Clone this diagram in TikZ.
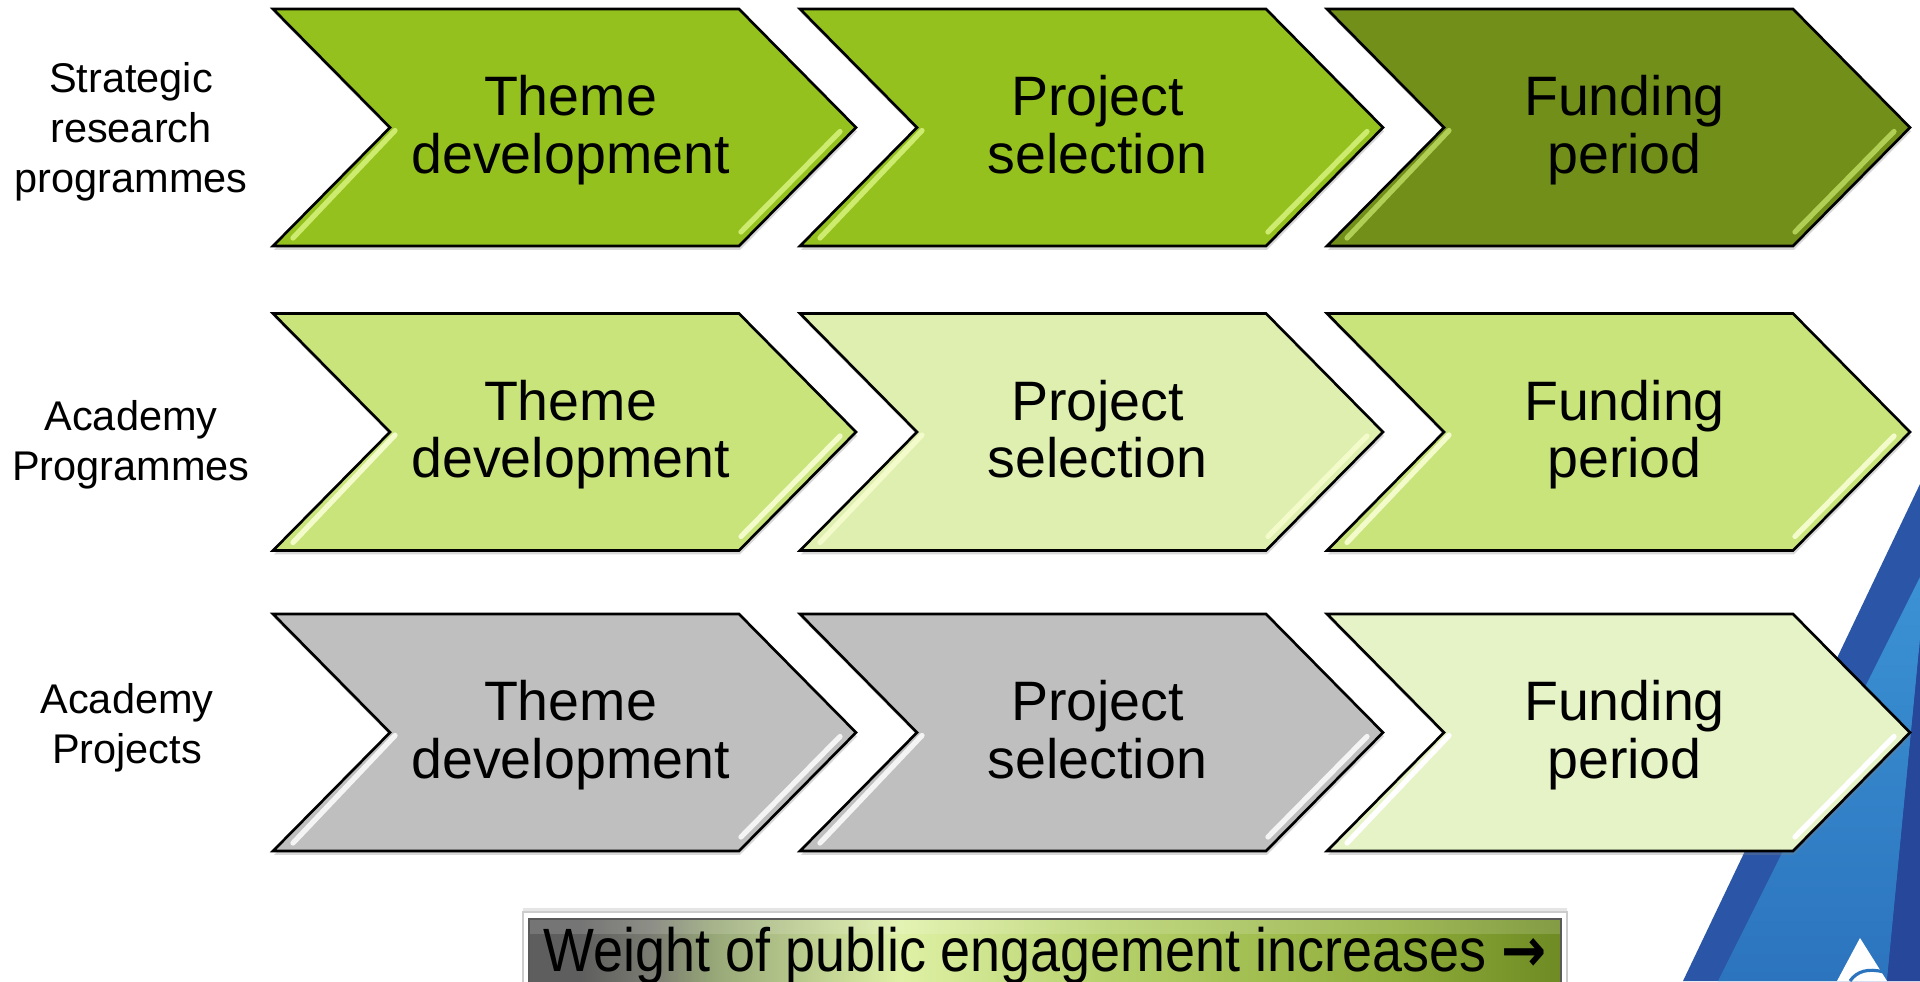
\documentclass[tikz,border=0pt]{standalone}
\usepackage{fontspec}
\setmainfont{Liberation Sans}
\newfontfamily\arrowfont{DejaVu Sans}
\usepackage{graphicx}
\usetikzlibrary{positioning,shadows}

\definecolor{greenA}{HTML}{95C11F}
\definecolor{oliveA}{HTML}{718F19}
\definecolor{limeB}{HTML}{C8E47B}
\definecolor{paleB}{HTML}{DEEFAF}
\definecolor{grayC}{HTML}{BFBFBF}
\definecolor{paleC}{HTML}{E6F3C6}
\definecolor{glintA}{HTML}{CDEB6E}
\definecolor{glintB}{HTML}{F3FBCB}
\definecolor{glintC}{HTML}{F4F4F4}
\definecolor{barA}{HTML}{5E5E5E}
\definecolor{barB}{HTML}{7B7C72}
\definecolor{barC}{HTML}{98A878}
\definecolor{barD}{HTML}{DFF1A6}
\definecolor{barE}{HTML}{B6D16B}
\definecolor{barF}{HTML}{8FAD3A}
\definecolor{barG}{HTML}{6E8B24}
\definecolor{logodark}{HTML}{2B56A7}
\definecolor{logolight}{HTML}{3B92D4}
\definecolor{logomid}{HTML}{2C74BE}
\definecolor{logodeep}{HTML}{26479A}

\pgfdeclarehorizontalshading{weightbar}{100bp}{color(0bp)=(barA); color(25bp)=(barA); color(27.5bp)=(barA); color(31bp)=(barB); color(34bp)=(barC); color(43bp)=(barD); color(53bp)=(barE); color(67bp)=(barF); color(75bp)=(barG); color(100bp)=(barG)}

\tikzset{
  chev/.style={draw=black, line width=0.75pt, drop shadow={opacity=0.3, shadow xshift=0.3pt, shadow yshift=-1.1pt}},
  glint/.style={draw=#1, line width=1.5pt, line cap=round},
  chevtext/.style={font=\fontsize{15.8}{16.4}\selectfont, align=center, execute at end node=\vphantom{p}},
  rowlabel/.style={font=\fontsize{11.8}{14.2}\selectfont, align=center, execute at end node=\vphantom{p}},
  bartext/.style={font=\fontsize{17.4}{19}\selectfont, inner sep=0pt}
}

\begin{document}
\begin{tikzpicture}[x=0.01cm, y=0.01cm]
        \clip (0,0) rectangle (1920,-981);
        \fill[white] (0,0) rectangle (1920,-981);
        \fill[logodark] (1920,-484) -- (1683,-981) -- (1920,-981) -- cycle;
        \shade[top color=logolight, bottom color=logomid] (1920,-577) -- (1718,-981) -- (1887,-981) -- (1920,-640) -- cycle;
        \fill[logodeep] (1920,-640) -- (1887,-981) -- (1920,-981) -- cycle;
        \fill[white] (1860,-938) -- (1837,-981) -- (1887,-981) -- cycle;
        \draw[logomid, line width=0.9pt] (1850,-981) .. controls (1857,-971) and (1868,-968) .. (1884,-972);
        \filldraw[chev, fill=greenA] (273,-9) -- ++(466,0) -- ++(117,-118.5) -- ++(-117,-118.5) -- ++(-466,0) -- ++(117,118.5) -- cycle;
        \filldraw[chev, fill=greenA] (800,-9) -- ++(466,0) -- ++(117,-118.5) -- ++(-117,-118.5) -- ++(-466,0) -- ++(117,118.5) -- cycle;
        \filldraw[chev, fill=oliveA] (1327,-9) -- ++(466,0) -- ++(117,-118.5) -- ++(-117,-118.5) -- ++(-466,0) -- ++(117,118.5) -- cycle;
        \filldraw[chev, fill=limeB] (273,-313.5) -- ++(466,0) -- ++(117,-118.5) -- ++(-117,-118.5) -- ++(-466,0) -- ++(117,118.5) -- cycle;
        \filldraw[chev, fill=paleB] (800,-313.5) -- ++(466,0) -- ++(117,-118.5) -- ++(-117,-118.5) -- ++(-466,0) -- ++(117,118.5) -- cycle;
        \filldraw[chev, fill=limeB] (1327,-313.5) -- ++(466,0) -- ++(117,-118.5) -- ++(-117,-118.5) -- ++(-466,0) -- ++(117,118.5) -- cycle;
        \filldraw[chev, fill=grayC] (273,-614) -- ++(466,0) -- ++(117,-118.5) -- ++(-117,-118.5) -- ++(-466,0) -- ++(117,118.5) -- cycle;
        \filldraw[chev, fill=grayC] (800,-614) -- ++(466,0) -- ++(117,-118.5) -- ++(-117,-118.5) -- ++(-466,0) -- ++(117,118.5) -- cycle;
        \filldraw[chev, fill=paleC] (1327,-614) -- ++(466,0) -- ++(117,-118.5) -- ++(-117,-118.5) -- ++(-466,0) -- ++(117,118.5) -- cycle;
        \draw[glint=glintA] (395,-130.5) -- (293,-238);
        \draw[glint=glintA] (840,-131.5) -- (741,-232);
        \draw[glint=glintA] (922,-130.5) -- (820,-238);
        \draw[glint=glintA] (1367,-131.5) -- (1268,-232);
        \draw[glint=glintA!70!oliveA] (1449,-130.5) -- (1347,-238);
        \draw[glint=glintA!70!oliveA] (1894,-131.5) -- (1795,-232);
        \draw[glint=glintB] (395,-435) -- (293,-542.5);
        \draw[glint=glintB] (840,-436) -- (741,-536.5);
        \draw[glint=glintB] (922,-435) -- (820,-542.5);
        \draw[glint=glintB] (1367,-436) -- (1268,-536.5);
        \draw[glint=glintB] (1449,-435) -- (1347,-542.5);
        \draw[glint=glintB] (1894,-436) -- (1795,-536.5);
        \draw[glint=glintC] (395,-735.5) -- (293,-843);
        \draw[glint=glintC] (840,-736.5) -- (741,-837);
        \draw[glint=glintC] (922,-735.5) -- (820,-843);
        \draw[glint=glintC] (1367,-736.5) -- (1268,-837);
        \draw[glint=white] (1449,-735.5) -- (1347,-843);
        \draw[glint=white] (1894,-736.5) -- (1795,-837);
        \node[rowlabel] (strategic) at (131,-132) {Strategic\\research\\programmes};
        \node[rowlabel] (acprog) at (131,-445) {Academy\\Programmes};
        \node[rowlabel] (acproj) at (127,-728) {Academy\\Projects};
        \node[chevtext] (theme1) at (570.5,-130) {Theme\\development};
        \node[chevtext] (select1) at (1097.5,-130) {Project\\selection};
        \node[chevtext] (fund1) at (1624.5,-130) {Funding\\period};
        \node[chevtext] (theme2) at (570.5,-434.5) {Theme\\development};
        \node[chevtext] (select2) at (1097.5,-434.5) {Project\\selection};
        \node[chevtext] (fund2) at (1624.5,-434.5) {Funding\\period};
        \node[chevtext] (theme3) at (570.5,-735) {Theme\\development};
        \node[chevtext] (select3) at (1097.5,-735) {Project\\selection};
        \node[chevtext] (fund3) at (1624.5,-735) {Funding\\period};
        \filldraw[draw=gray!40, fill=white, drop shadow={opacity=0.2, shadow xshift=0pt, shadow yshift=1pt}] (523,-912) rectangle (1567,-995);
        \shade[shading=weightbar] (529,-919) rectangle (1561,-995);
        \fill[white, opacity=0.15] (529,-919) rectangle (1561,-934);
        \draw[gray!70!black, line width=0.3pt] (529,-919) rectangle (1561,-995);
        \node[bartext, anchor=base] (weight) at (1045,-971) {\resizebox{10.02cm}{\height}{Weight of public engagement increases {\arrowfont\bfseries →}}};
\end{tikzpicture}
\end{document}
